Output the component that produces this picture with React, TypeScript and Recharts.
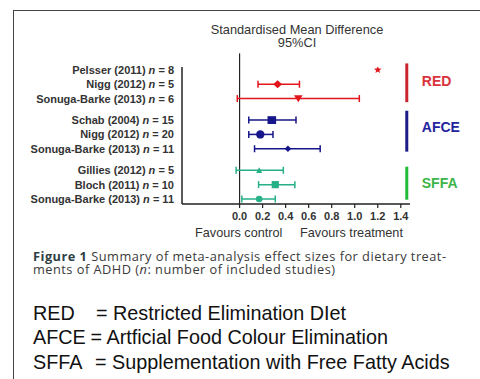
import React from 'react';
import { ScatterChart, Scatter, XAxis, YAxis, ErrorBar, ReferenceLine, ReferenceDot } from 'recharts';

// ---------- data ----------
const studies = [
  'Pelsser (2011)', 'Nigg (2012)', 'Sonuga-Barke (2013)',
  'Schab (2004)', 'Nigg (2012)', 'Sonuga-Barke (2013)',
  'Gillies (2012)', 'Bloch (2011)', 'Sonuga-Barke (2013)',
];
const nIncluded = [8, 5, 6, 15, 20, 11, 5, 10, 11];
const studyGroup = ['RED', 'RED', 'RED', 'AFCE', 'AFCE', 'AFCE', 'SFFA', 'SFFA', 'SFFA'];
const effectSize = [1.2, 0.33, 0.51, 0.28, 0.18, 0.42, 0.17, 0.31, 0.17];
const ciLow: (number | null)[] = [null, 0.16, -0.02, 0.08, 0.08, 0.13, -0.03, 0.165, 0.02];
const ciHigh: (number | null)[] = [null, 0.52, 1.04, 0.49, 0.29, 0.70, 0.38, 0.48, 0.31];
const groups = ['RED', 'AFCE', 'SFFA'];
const xTicks = [0, 0.2, 0.4, 0.6, 0.8, 1.0, 1.2, 1.4];
const legendAbbr = ['RED', 'AFCE', 'SFFA'];
const legendText = ['Restricted Elimination DIet', 'Artficial Food Colour Elimination', 'Supplementation with Free Fatty Acids'];

// ---------- styles / layout ----------
const GROUP_GAP = 0.5;
const BAR_X = 1.452;
const groupStyle: Record<string, any> = {
  RED: { mark: '#e3141c', bar: '#cc2331', text: '#d8323c', barTop: -0.45, barBottom: 0.25, labelShift: -0.2 },
  AFCE: { mark: '#16168a', bar: '#1c1c86', text: '#2323a0', barTop: -0.65, barBottom: 0.2, labelShift: -0.5 },
  SFFA: { mark: '#25b088', bar: '#1fbb36', text: '#3cb54a', barTop: -0.25, barBottom: 0.05, labelShift: -0.15 },
};
const markers = ['star', 'diamond', 'triangleDown', 'square', 'circle', 'smallDiamond', 'triangle', 'smallSquare', 'smallCircle'];
const legendAbbrWidth = [63, 57.5, 62];

const groupIndex = studyGroup.map((g) => groups.indexOf(g));
const rowPos = studies.map((_, i) => i + groupIndex[i] * GROUP_GAP);

const FONT = '"Liberation Sans", Arial, Helvetica, sans-serif';
const CAPTION_FONT = '"Open Sans", "Noto Sans", sans-serif';

function Marker(props: any) {
  const { cx, cy, kind, color } = props;
  if (cx == null || cy == null) return null;
  switch (kind) {
    case 'star': {
      const pts: string[] = [];
      for (let k = 0; k < 10; k++) {
        const r = k % 2 === 0 ? 4 : 1.7;
        const a = -Math.PI / 2 + (k * Math.PI) / 5;
        pts.push(`${cx + r * Math.cos(a)},${cy + r * Math.sin(a)}`);
      }
      return <polygon points={pts.join(' ')} fill={color} />;
    }
    case 'diamond':
      return <polygon points={`${cx - 4.5},${cy} ${cx},${cy - 4} ${cx + 4.5},${cy} ${cx},${cy + 4}`} fill={color} />;
    case 'smallDiamond':
      return <polygon points={`${cx - 3.3},${cy} ${cx},${cy - 3.3} ${cx + 3.3},${cy} ${cx},${cy + 3.3}`} fill={color} />;
    case 'triangleDown':
      return <polygon points={`${cx - 4.3},${cy - 3.3} ${cx + 4.3},${cy - 3.3} ${cx},${cy + 3.8}`} fill={color} />;
    case 'triangle':
      return <polygon points={`${cx - 3},${cy + 2.6} ${cx + 3},${cy + 2.6} ${cx},${cy - 3}`} fill={color} />;
    case 'square':
      return <rect x={cx - 4.3} y={cy - 3.9} width={8.6} height={7.8} fill={color} />;
    case 'smallSquare':
      return <rect x={cx - 3.6} y={cy - 3.6} width={7.2} height={7.2} fill={color} />;
    case 'circle':
      return <circle cx={cx} cy={cy} r={4.2} fill={color} />;
    case 'smallCircle':
      return <circle cx={cx} cy={cy} r={3.3} fill={color} />;
    default:
      return null;
  }
}

function StudyTick(props: any) {
  const { x, y, payload } = props;
  const i = rowPos.indexOf(payload.value);
  if (i < 0) return null;
  return (
    <text x={x} y={y} dy="0.36em" textAnchor="end" fontFamily={FONT} fontWeight="bold" fontSize={11} fill="#333">
      {studies[i] + ' '}
      <tspan fontStyle="italic">n</tspan>
      {' = ' + nIncluded[i]}
    </text>
  );
}

export default function App() {
  return (
    <div style={{ position: 'absolute', left: 0, top: 0, width: 480, height: 379, overflow: 'hidden', background: '#fff', fontFamily: FONT }}>
      <div style={{ position: 'absolute', left: 13, top: 10, width: 600, height: 500, borderLeft: '1.5px solid #444', borderTop: '1.5px solid #444' }} />
      <div style={{ position: 'absolute', left: 0, top: 22.5, width: 594, textAlign: 'center', fontSize: 12.8, lineHeight: '13px', color: '#333' }}>
        Standardised Mean Difference<br />95%CI
      </div>
      <div style={{ position: 'absolute', left: 0, top: 0 }}>
        <ScatterChart width={480} height={240} margin={{ top: 67, right: 70, bottom: 6, left: 0 }}>
          <XAxis
            type="number"
            dataKey="x"
            domain={[-0.5, 1.48]}
            allowDataOverflow
            ticks={xTicks}
            tickFormatter={(v: number) => v.toFixed(1)}
            axisLine={{ stroke: '#222', strokeWidth: 1.5 }}
            tickLine={{ stroke: '#222', strokeWidth: 1.2 }}
            tickSize={4}
            tickMargin={4}
            height={30}
            tick={{ fontFamily: FONT, fontWeight: 'bold', fontSize: 11, fill: '#333' }}
          />
          <YAxis
            type="number"
            dataKey="y"
            domain={[-0.2, 9.35]}
            reversed
            allowDataOverflow
            ticks={rowPos}
            interval={0}
            width={182}
            tickLine={false}
            tickSize={6}
            tickMargin={2}
            axisLine={{ stroke: '#222', strokeWidth: 1.5 }}
            tick={<StudyTick />}
          />
          <ReferenceLine
            segment={[{ x: 0, y: -1.15 }, { x: 0, y: 9.35 }]}
            stroke="#222"
            strokeWidth={1.2}
            ifOverflow="visible"
          />
          {groups.map((g) => {
            const rows = rowPos.filter((_, i) => studyGroup[i] === g);
            const st = groupStyle[g];
            return (
              <ReferenceLine
                key={'bar' + g}
                segment={[{ x: BAR_X, y: rows[0] + st.barTop }, { x: BAR_X, y: rows[rows.length - 1] + st.barBottom }]}
                stroke={st.bar}
                strokeWidth={3}
                ifOverflow="visible"
              />
            );
          })}
          {groups.map((g) => {
            const rows = rowPos.filter((_, i) => studyGroup[i] === g);
            const st = groupStyle[g];
            const mid = (rows[0] + rows[rows.length - 1]) / 2 + st.labelShift;
            return (
              <ReferenceDot
                key={'lab' + g}
                x={BAR_X}
                y={mid}
                r={0}
                fill="none"
                stroke="none"
                ifOverflow="visible"
                label={{
                  content: (p: any) => (
                    <text x={p.viewBox.x + 15} y={p.viewBox.y} dy="0.36em" fontFamily={FONT} fontWeight="bold" fontSize={14} fill={st.text}>
                      {g}
                    </text>
                  ),
                }}
              />
            );
          })}
          {studies.map((s, i) => {
            const color = groupStyle[studyGroup[i]].mark;
            const lo = ciLow[i];
            const hi = ciHigh[i];
            const datum: any = { x: effectSize[i], y: rowPos[i] };
            if (lo != null && hi != null) datum.err = [effectSize[i] - lo, hi - effectSize[i]];
            return (
              <Scatter
                key={'s' + i}
                data={[datum]}
                isAnimationActive={false}
                shape={(p: any) => <Marker {...p} kind={markers[i]} color={color} />}
              >
                {lo != null && (
                  <ErrorBar dataKey="err" direction="x" width={3.5} stroke={color} strokeWidth={1.5} isAnimationActive={false} />
                )}
              </Scatter>
            );
          })}
        </ScatterChart>
      </div>
      <div style={{ position: 'absolute', left: 195, top: 225.7, fontSize: 12.7, lineHeight: '14px', color: '#333', whiteSpace: 'nowrap' }}>Favours control</div>
      <div style={{ position: 'absolute', left: 300, top: 225.7, fontSize: 12.7, lineHeight: '14px', color: '#333', whiteSpace: 'nowrap' }}>Favours treatment</div>
      <div style={{ position: 'absolute', left: 33, top: 249.5, fontFamily: CAPTION_FONT, fontSize: 12.8, lineHeight: '13px', letterSpacing: 0.48, color: '#3a3a3a', whiteSpace: 'nowrap' }}>
        <b style={{ color: '#2e3f44' }}>Figure 1</b> Summary of meta-analysis effect sizes for dietary treat-
      </div>
      <div style={{ position: 'absolute', left: 33, top: 262.5, fontFamily: CAPTION_FONT, fontSize: 12.8, lineHeight: '13px', letterSpacing: 0.48, color: '#3a3a3a', whiteSpace: 'nowrap' }}>
        ments of ADHD (<i>n</i>: number of included studies)
      </div>
      {legendAbbr.map((a, i) => (
        <div
          key={a}
          style={{ position: 'absolute', left: 33, top: 300.5 + i * 24.5, fontSize: 19.8, lineHeight: '24.5px', color: '#111', whiteSpace: 'nowrap' }}
        >
          <span style={{ display: 'inline-block', width: legendAbbrWidth[i] }}>{a}</span>
          {'= ' + legendText[i]}
        </div>
      ))}
    </div>
  );
}
